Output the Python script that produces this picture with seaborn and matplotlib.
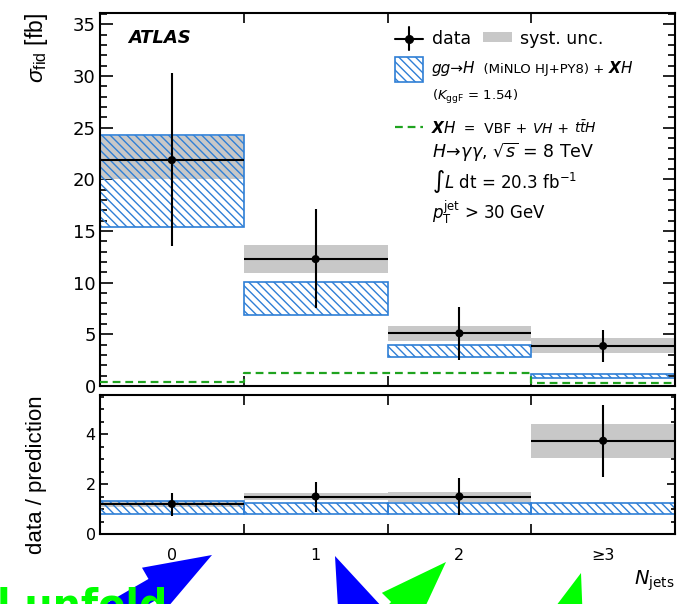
import numpy as np
import pandas as pd
import seaborn as sns
import matplotlib
matplotlib.use("Agg")
import matplotlib.pyplot as plt
from matplotlib.ticker import FixedLocator, FixedFormatter, MultipleLocator, NullFormatter
from matplotlib.offsetbox import TextArea, HPacker, AnnotationBbox
from matplotlib.patches import FancyArrow, Rectangle
from matplotlib.transforms import Affine2D

# ---------------- measurement: H -> gamma gamma, N_jets ----------------
njet_labels = ["0", "1", "2", "≥3"]
bin_edges = [-0.5, 0.5, 1.5, 2.5, 3.5]

xsec_data = [21.86, 12.28, 5.10, 3.87]
xsec_err_up = [8.41, 4.82, 2.50, 1.53]
xsec_err_dn = [8.29, 4.74, 2.60, 1.52]
xsec_syst_lo = [20.0, 10.96, 4.38, 3.22]
xsec_syst_hi = [24.2, 13.60, 5.80, 4.61]

# gg->H (MiNLO HJ+PY8) + XH prediction band and the XH contribution
pred_lo = [15.38, 6.87, 2.83, 0.74]
pred_hi = [24.27, 10.09, 3.97, 1.13]
xh_pred = [0.42, 1.23, 1.29, 0.32]

# data / prediction
ratio_data = [1.20, 1.50, 1.50, 3.73]
ratio_err_up = [0.45, 0.59, 0.75, 1.43]
ratio_err_dn = [0.48, 0.61, 0.74, 1.44]
ratio_syst_lo = [1.10, 1.36, 1.30, 3.03]
ratio_syst_hi = [1.33, 1.66, 1.70, 4.39]
ratio_pred_lo = [0.79, 0.80, 0.80, 0.80]
ratio_pred_hi = [1.33, 1.23, 1.23, 1.23]

GRAY = "#c8c8c8"
BLUE = "#2f7fd6"
GREEN = "#1fa31f"
HATCH = "\\\\\\\\"

sns.set_theme(style="ticks", rc={
    "axes.edgecolor": "black", "axes.linewidth": 1.5,
    "xtick.color": "black", "ytick.color": "black",
    "axes.labelcolor": "black", "text.color": "black",
})
plt.rcParams["font.family"] = ["DejaVu Sans"]
plt.rcParams["mathtext.fontset"] = "dejavusans"
plt.rcParams["mathtext.rm"] = "Liberation Sans"
plt.rcParams["mathtext.it"] = "Liberation Sans:italic"
plt.rcParams["mathtext.bf"] = "Liberation Sans:bold"
plt.rcParams["hatch.linewidth"] = 1.0

W, H = 689, 604
fig = plt.figure(figsize=(W / 100, H / 100), dpi=100)
ax = fig.add_axes([100 / W, (H - 386) / H, 575 / W, 373 / H])
axr = fig.add_axes([100 / W, (H - 534) / H, 575 / W, 139 / H])

centers = np.arange(len(njet_labels))
main_df = pd.DataFrame({"njet": centers, "value": xsec_data})
ratio_df = pd.DataFrame({"njet": centers, "value": ratio_data})


def draw_panel(a, df, e_up, e_dn, s_lo, s_hi, p_lo, p_hi):
    a.bar(df["njet"], np.subtract(s_hi, s_lo), bottom=s_lo, width=1.0,
          color=GRAY, linewidth=0, zorder=1)
    a.bar(df["njet"], np.subtract(p_hi, p_lo), bottom=p_lo, width=1.0,
          fill=False, hatch=HATCH, edgecolor=BLUE, linewidth=1.2, zorder=2)
    a.errorbar(df["njet"], df["value"], yerr=[e_dn, e_up], xerr=0.5, fmt="none",
               ecolor="black", elinewidth=1.5, capsize=0, zorder=4)
    sns.scatterplot(data=df, x="njet", y="value", color="black", s=34,
                    edgecolor="none", ax=a, zorder=5, legend=False)


draw_panel(ax, main_df, xsec_err_up, xsec_err_dn, xsec_syst_lo, xsec_syst_hi,
           pred_lo, pred_hi)
draw_panel(axr, ratio_df, ratio_err_up, ratio_err_dn, ratio_syst_lo, ratio_syst_hi,
           ratio_pred_lo, ratio_pred_hi)

# XH contribution as a dashed histogram
xh_df = pd.DataFrame({"edge": bin_edges, "xh": xh_pred + [xh_pred[-1]]})
sns.lineplot(data=xh_df, x="edge", y="xh", drawstyle="steps-post", color=GREEN,
             linewidth=1.6, linestyle=(0, (3.5, 2.2)), ax=ax, legend=False, zorder=3)

for a in (ax, axr):
    a.set_xlim(bin_edges[0], bin_edges[-1])
    a.xaxis.set_major_locator(FixedLocator(bin_edges))
    a.xaxis.set_major_formatter(NullFormatter())
    a.xaxis.set_minor_locator(FixedLocator(centers))
    a.tick_params(axis="x", which="major", direction="in", length=7, width=1.2,
                  top=True, bottom=True)
    a.tick_params(axis="x", which="minor", length=0, top=False, bottom=True)
    a.tick_params(axis="y", which="both", direction="in", left=True, right=True, width=1.2)
    a.set_xlabel("")
    a.set_ylabel("")

ax.xaxis.set_minor_formatter(NullFormatter())
axr.xaxis.set_minor_formatter(FixedFormatter(njet_labels))
axr.tick_params(axis="x", which="minor", labelsize=11.5, pad=10)

ax.set_ylim(0, 36.1)
ax.yaxis.set_major_locator(MultipleLocator(5))
ax.yaxis.set_minor_locator(MultipleLocator(1))
ax.tick_params(axis="y", which="major", length=9, labelsize=13, pad=3)
ax.tick_params(axis="y", which="minor", length=5)

axr.set_ylim(0, 5.56)
axr.yaxis.set_major_locator(MultipleLocator(2))
axr.yaxis.set_minor_locator(MultipleLocator(0.5))
axr.tick_params(axis="y", which="major", length=6, labelsize=11.5, pad=3)
axr.tick_params(axis="y", which="minor", length=3)

ax.set_ylabel(r"$\sigma_{\rm fid}$ [fb]", fontsize=16.5, family="Liberation Sans",
              math_fontfamily="custom", loc="top")
ax.yaxis.set_label_coords(-0.087, 1.0)
axr.set_ylabel("data / prediction", fontsize=16, family="Liberation Sans", loc="top")
axr.yaxis.set_label_coords(-0.092, 1.0)
axr.set_xlabel(r"$N_{\rm jets}$", fontsize=14, loc="right")
axr.xaxis.set_label_coords(1.0, -0.25)

# ---------------- legend and labels ----------------
T = ax.transAxes
ax.text(0.0487, 0.933, "ATLAS", transform=T, fontsize=13, fontweight="bold",
        fontstyle="italic", va="center")

tx = 0.577
ax.plot([0.513, 0.562], [0.930, 0.930], transform=T, color="black", lw=1.5)
ax.plot([0.537, 0.537], [0.901, 0.962], transform=T, color="black", lw=1.5)
ax.plot([0.537], [0.930], "o", ms=5.5, color="black", transform=T)
ax.text(tx, 0.930, "data", transform=T, fontsize=12.5, va="center")
ax.add_patch(Rectangle((0.666, 0.922), 0.051, 0.027, transform=T, color=GRAY, lw=0))
ax.text(0.730, 0.930, "syst. unc.", transform=T, fontsize=12.5, va="center")

ax.add_patch(Rectangle((0.513, 0.815), 0.049, 0.067, transform=T, fill=False,
                       hatch=HATCH, edgecolor=BLUE, lw=1.2))
line1 = HPacker(children=[
    TextArea("gg→H", textprops=dict(size=11, style="italic")),
    TextArea("  (MiNLO HJ+PY8) + ", textprops=dict(size=9.5)),
    TextArea("X", textprops=dict(size=11, style="italic", weight="bold")),
    TextArea("H", textprops=dict(size=11, style="italic")),
], align="baseline", pad=0, sep=0)
ax.add_artist(AnnotationBbox(line1, (tx, 0.850), xycoords="axes fraction",
                             box_alignment=(0, 0.5), frameon=False, pad=0))
ax.text(tx, 0.775, r"($K_{\rm ggF}$ = 1.54)", transform=T, fontsize=9.5, va="center")

ax.plot([0.513, 0.562], [0.694, 0.694], transform=T, color=GREEN, lw=1.6,
        linestyle=(0, (3.5, 2.2)))
line3 = HPacker(children=[
    TextArea("X", textprops=dict(size=11, style="italic", weight="bold")),
    TextArea("H", textprops=dict(size=11, style="italic")),
    TextArea("  =  VBF + ", textprops=dict(size=10)),
    TextArea(r"$VH$", textprops=dict(size=10)),
    TextArea(" + ", textprops=dict(size=10)),
    TextArea(r"$t\bar{t}H$", textprops=dict(size=10)),
], align="baseline", pad=0, sep=0)
ax.add_artist(AnnotationBbox(line3, (tx, 0.694), xycoords="axes fraction",
                             box_alignment=(0, 0.5), frameon=False, pad=0))

ax.text(tx, 0.625, r"$H\!\rightarrow\!\gamma\gamma$, $\sqrt{s}$ = 8 TeV", transform=T,
        fontsize=12.5, va="center")
ax.text(tx, 0.547, r"$\int L$ dt = 20.3 fb$^{-1}$", transform=T, fontsize=12, va="center")
ax.text(tx, 0.464, r"$p_{\rm T}^{\rm jet}$ > 30 GeV", transform=T, fontsize=12, va="center")

# ---------------- overlaid callouts at the bottom ----------------
pix = Affine2D().scale(1 / W, -1 / H).translate(0, 1) + fig.transFigure
arrows = [
    ((212, 555), (-0.866, 0.500), "#0000ff"),
    ((335, 556), (0.391, 0.921), "#0000ff"),
    ((446, 562), (-0.702, 0.712), "#00ff00"),
    ((581, 573), (-0.300, 0.954), "#00ff00"),
]
for (tipx, tipy), (bx, by), col in arrows:
    length = 130
    tail = (tipx + length * bx, tipy + length * by)
    arr = FancyArrow(tail[0], tail[1], tipx - tail[0], tipy - tail[1], width=22,
                     head_width=48, head_length=67, length_includes_head=True,
                     color=col, lw=0, transform=pix)
    arr.set_clip_on(False)
    fig.add_artist(arr)

fig.text(-3, 617, "l unfold", transform=pix, fontsize=28.5, fontweight="bold",
         color="#00ff00", va="baseline", ha="left", zorder=10)

fig.savefig("out.png", dpi=100)
